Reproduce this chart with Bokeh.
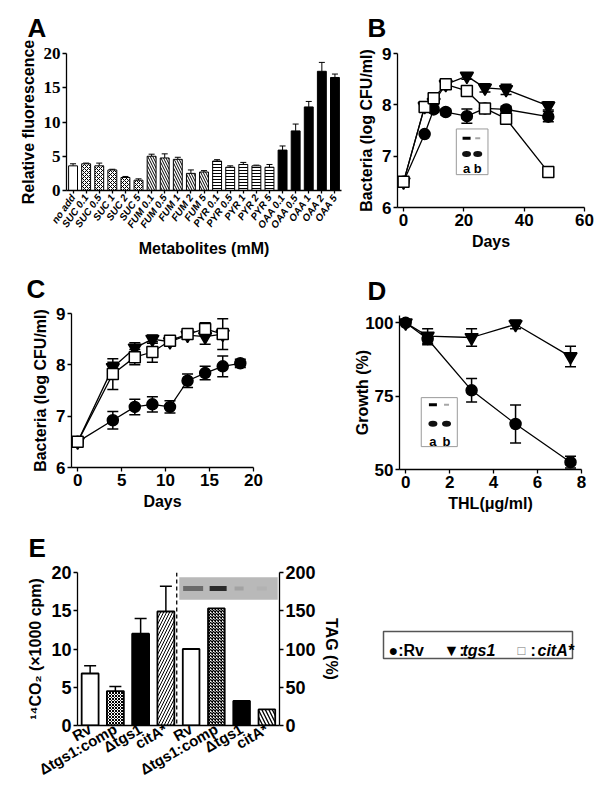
from bokeh.plotting import figure
from bokeh.layouts import column, row
from bokeh.models import (Range1d, FactorRange, LinearAxis, Whisker, TeeHead,
                          ColumnDataSource, FixedTicker, Span)
from bokeh.core.properties import value
from bokeh.embed import file_html
from bokeh.resources import INLINE

FONT = "Liberation Sans"
NARROW = "Liberation Sans Narrow"

# ---------------- Panel A data ----------------
a_labels = ["no add", "SUC 0.1", "SUC 0.5", "SUC 1", "SUC 2", "SUC 5",
            "FUM 0.1", "FUM 0.5", "FUM 1", "FUM 2", "FUM 5",
            "PYR 0.1", "PYR 0.5", "PYR 1", "PYR 2", "PYR 5",
            "OAA 0.1", "OAA 0.5", "OAA 1", "OAA 2", "OAA 5"]
a_values = [3.6, 3.9, 3.6, 3.0, 1.9, 1.5, 5.0, 4.75, 4.55, 2.5, 2.7,
            4.3, 3.4, 3.8, 3.6, 3.4, 5.9, 8.7, 12.2, 17.4, 16.5]
a_errors = [0.3, 0.1, 0.4, 0.1, 0.15, 0.2, 0.3, 0.6, 0.3, 0.5, 0.2,
            0.2, 0.2, 0.3, 0.1, 0.4, 0.6, 1.0, 0.8, 1.3, 0.5]
a_yticks = [0, 5, 10, 15, 20]

# ---------------- Panel B data ----------------
b_days = [0, 7, 10, 14, 21, 27, 34, 48]
b_rv = [6.5, 7.43, 7.91, 7.86, 7.78, 7.93, 7.91, 7.77]
b_rv_err = [0, 0, 0.05, 0.06, 0.14, 0.08, 0.06, 0.1]
b_tgs1 = [6.5, 7.97, 8.05, 8.4, 8.56, 8.33, 8.3, 7.98]
b_tgs1_err = [0, 0.06, 0.05, 0, 0.06, 0.08, 0.1, 0.08]
b_cit = [6.5, 7.96, 8.13, 8.4, 8.27, 7.93, 7.73, 6.69]
b_cit_err = [0, 0.05, 0, 0, 0, 0.05, 0.05, 0]
b_xticks = [0, 20, 40, 60]
b_yticks = [6, 7, 8, 9]

# ---------------- Panel C data ----------------
c_days = [0, 4, 6.5, 8.5, 10.5, 12.5, 14.5, 16.5, 18.5]
c_rv = [6.5, 6.92, 7.18, 7.23, 7.18, 7.69, 7.84, 7.97, 8.03]
c_rv_err = [0, 0.17, 0.15, 0.15, 0.12, 0.13, 0.13, 0.2, 0.08]
c_days_mut = [0, 4, 6.5, 8.5, 10.5, 12.5, 14.5, 16.5]
c_tgs1 = [6.5, 7.95, 8.33, 8.5, 8.45, 8.58, 8.55, 8.6]
c_tgs1_err = [0, 0.1, 0.1, 0.08, 0.06, 0.05, 0.15, 0.1]
c_cit = [6.5, 7.82, 8.15, 8.25, 8.47, 8.6, 8.7, 8.6]
c_cit_err = [0, 0.3, 0.15, 0.2, 0.08, 0.05, 0.12, 0.3]
c_xticks = [0, 5, 10, 15, 20]

# ---------------- Panel D data ----------------
d_thl = [0, 1, 3, 5, 7.5]
d_rv = [100, 94.5, 77, 65.5, 52.5]
d_rv_err = [0, 2, 4, 6.5, 2]
d_tgs1 = [100, 95.5, 95, 99.5, 88.5]
d_tgs1_err = [0, 2.5, 3, 1.5, 3.5]
d_xticks = [0, 2, 4, 6, 8]
d_yticks = [50, 75, 100]

# ---------------- Panel E data ----------------
e_strains = ["Rv", "\u0394tgs1:comp", "\u0394tgs1", "citA*"]
e_co2 = [6.8, 4.5, 12.0, 14.9]
e_co2_err = [1.0, 0.6, 2.0, 3.3]
e_tag = [100, 153, 32, 21]
e_yticks = [0, 5, 10, 15, 20]
e_tag_ticks = [0, 50, 100, 150, 200]

# ---------------- Legend ----------------
legend_symbols = ["\u25cf", "\u25bc", "\u25a1"]
legend_names = ["Rv", "tgs1", "citA*"]


def base_fig(w, h, xr, yr, bl, br, bt, bb, letter, offset, standoff=19):
    p = figure(width=w, height=h, x_range=xr, y_range=yr,
               output_backend="svg", toolbar_location=None,
               min_border_left=bl, min_border_right=br,
               min_border_top=bt, min_border_bottom=bb, title=letter)
    p.frame_align = False
    p.title.align = "left"
    p.title.offset = offset
    p.title.standoff = standoff
    p.title.text_font = FONT
    p.title.text_font_size = "26px"
    p.title.text_font_style = "bold"
    p.title.text_color = "black"
    p.outline_line_color = None
    p.grid.grid_line_color = None
    return p


def style_axes(p, tick_font=FONT, tick_size="17px", label_size="16px"):
    for ax in p.axis:
        ax.axis_line_color = "black"
        ax.axis_line_width = 1.3
        ax.major_tick_line_color = "black"
        ax.major_tick_line_width = 1.3
        ax.major_tick_in = 0
        ax.major_tick_out = 4
        ax.minor_tick_line_color = None
        ax.major_label_text_font = tick_font
        ax.major_label_text_font_style = "bold"
        ax.major_label_text_font_size = tick_size
        ax.major_label_text_color = "black"
        ax.axis_label_text_font = FONT
        ax.axis_label_text_font_style = "bold"
        ax.axis_label_text_font_size = label_size
        ax.axis_label_text_color = "black"
        ax.major_label_standoff = 2
        ax.axis_label_standoff = 4


def add_series(p, xs, ys, errs):
    p.line(xs, ys, line_color="black", line_width=1.3)
    wx = [x for x, e in zip(xs, errs) if e > 0]
    wl = [y - e for y, e in zip(ys, errs) if e > 0]
    wu = [y + e for y, e in zip(ys, errs) if e > 0]
    if wx:
        src = ColumnDataSource(dict(x=wx, lo=wl, up=wu))
        p.add_layout(Whisker(source=src, base="x", lower="lo", upper="up",
                             line_width=1.5, line_color="black",
                             upper_head=TeeHead(size=11, line_width=1.5),
                             lower_head=TeeHead(size=11, line_width=1.5)))


def add_markers(p, xs, ys, marker, size, fill):
    p.scatter(xs, ys, marker=marker, size=size, fill_color=fill,
              line_color="black", line_width=1.5)


def add_inset(p, box, band_x, band_y, band_alpha, dot_y, lab_y):
    (x0, x1, y0, y1) = box
    p.quad(left=[x0], right=[x1], bottom=[y0], top=[y1], fill_color="white",
           line_color="#9a9a9a", line_width=1)
    p.rect(x=band_x, y=[band_y] * 2, width=[8, 5], height=[3, 2],
           width_units="screen", height_units="screen",
           fill_color="black", fill_alpha=band_alpha, line_color=None)
    p.ellipse(x=band_x, y=[dot_y] * 2, width=[9, 9], height=[6, 6],
              width_units="screen", height_units="screen",
              fill_color="#111111", line_color=None)
    p.text(x=band_x, y=[lab_y] * 2, text=["a", "b"], text_align="center",
           text_baseline="alphabetic", text_font=value(FONT),
           text_font_style="bold", text_font_size="13px", text_color="black")


# ================= Panel A =================
group_of = lambda lab: lab.split(" ")[0] if lab != "no add" else "none"
a_style = {
    "none": ("white", "blank", 6),
    "SUC": ("white", "diagonal_cross", 4),
    "FUM": ("white", "left_diagonal_line", 5),
    "PYR": ("white", "horizontal_line", 3),
    "OAA": ("black", "blank", 6),
}
srcA = ColumnDataSource(dict(
    x=a_labels, top=a_values,
    upper=[v + e for v, e in zip(a_values, a_errors)],
    fill=[a_style[group_of(l)][0] for l in a_labels],
    hatch=[a_style[group_of(l)][1] for l in a_labels],
    scale=[a_style[group_of(l)][2] for l in a_labels],
))
pA = base_fig(345, 262, FactorRange(factors=a_labels), Range1d(0, 20),
              66, 4, 53, 72, "A", -39, 21)
pA.add_layout(Whisker(source=srcA, base="x", lower="top", upper="upper",
                      line_width=1, line_color="black",
                      upper_head=TeeHead(size=6, line_width=1), lower_head=None))
pA.vbar(x="x", top="top", width=0.68, source=srcA, fill_color="fill",
        line_color="black", line_width=1, hatch_pattern="hatch",
        hatch_scale="scale", hatch_color="black", hatch_weight=1)
style_axes(pA, tick_font=NARROW, tick_size="17px", label_size="16px")
pA.yaxis.ticker = FixedTicker(ticks=a_yticks)
pA.yaxis.axis_label = "Relative fluorescence"
pA.xaxis.axis_label = "Metabolites (mM)"
pA.xaxis.major_label_orientation = 0.95
pA.xaxis.major_label_text_font = FONT
pA.xaxis.major_label_text_font_style = "bold italic"
pA.xaxis.major_label_text_font_size = "10px"
pA.xaxis.major_tick_out = 3
pA.xaxis.axis_label_standoff = 3
pA.x_range.range_padding = 0

# ================= Panel B =================
pB = base_fig(255, 262, Range1d(-2, 60), Range1d(6, 9), 52, 16, 52, 55,
              "B", -30, 21)
add_series(pB, b_days, b_rv, b_rv_err)
add_series(pB, b_days, b_tgs1, b_tgs1_err)
add_series(pB, b_days, b_cit, b_cit_err)
add_markers(pB, b_days, b_rv, "circle", 11, "black")
add_markers(pB, b_days, b_tgs1, "inverted_triangle", 13, "black")
add_markers(pB, b_days, b_cit, "square", 11, "white")
add_inset(pB, (17.5, 28.0, 6.64, 7.53), [20.9, 24.6], 7.35, [1.0, 0.35],
          7.04, 6.76)
style_axes(pB)
pB.xaxis.ticker = FixedTicker(ticks=b_xticks)
pB.yaxis.ticker = FixedTicker(ticks=b_yticks)
pB.xaxis.axis_label = "Days"
pB.yaxis.axis_label = "Bacteria (log CFU/ml)"

# ================= Panel C =================
pC = base_fig(345, 258, Range1d(-0.7, 20), Range1d(6, 9), 71, 92, 50, 53,
              "C", -45, 19)
add_series(pC, c_days, c_rv, c_rv_err)
add_series(pC, c_days_mut, c_tgs1, c_tgs1_err)
add_series(pC, c_days_mut, c_cit, c_cit_err)
add_markers(pC, c_days, c_rv, "circle", 11, "black")
add_markers(pC, c_days_mut, c_tgs1, "inverted_triangle", 13, "black")
add_markers(pC, c_days_mut, c_cit, "square", 11, "white")
style_axes(pC)
pC.xaxis.ticker = FixedTicker(ticks=c_xticks)
pC.yaxis.ticker = FixedTicker(ticks=b_yticks)
pC.xaxis.axis_label = "Days"
pC.yaxis.axis_label = "Bacteria (log CFU/ml)"

# ================= Panel D =================
pD = base_fig(255, 258, Range1d(-0.28, 8), Range1d(50, 102.5), 54, 19, 53, 51,
              "D", -32, 19)
add_series(pD, d_thl, d_rv, d_rv_err)
add_series(pD, d_thl, d_tgs1, d_tgs1_err)
add_markers(pD, d_thl, d_rv, "circle", 11, "black")
add_markers(pD, d_thl, d_tgs1, "inverted_triangle", 13, "black")
add_inset(pD, (0.71, 2.35, 57.8, 74.5), [1.24, 1.86], 72.1, [1.0, 0.35],
          65.6, 59.4)
style_axes(pD)
pD.xaxis.ticker = FixedTicker(ticks=d_xticks)
pD.yaxis.ticker = FixedTicker(ticks=d_yticks)
pD.xaxis.axis_label = "THL(\u03bcg/ml)"
pD.yaxis.axis_label = "Growth (%)"
pD.yaxis.axis_label_standoff = -9

# ================= Panel E =================
n = len(e_strains)
e_left_x = [i + 0.5 for i in range(n)]
e_right_x = [n + i + 0.5 for i in range(n)]
strain_style = {
    "Rv": ("white", "blank", 6),
    "\u0394tgs1:comp": ("white", "diagonal_cross", 3),
    "\u0394tgs1": ("black", "blank", 6),
}
left_default = ("white", "right_diagonal_line", 6)
right_default = ("white", "left_diagonal_line", 7)
left_src = ColumnDataSource(dict(
    x=e_left_x, top=e_co2, upper=[v + e for v, e in zip(e_co2, e_co2_err)],
    fill=[strain_style.get(s, left_default)[0] for s in e_strains],
    hatch=[strain_style.get(s, left_default)[1] for s in e_strains],
    scale=[strain_style.get(s, left_default)[2] for s in e_strains],
))
right_src = ColumnDataSource(dict(
    x=e_right_x, top=e_tag,
    fill=[strain_style.get(s, right_default)[0] for s in e_strains],
    hatch=[strain_style.get(s, right_default)[1] for s in e_strains],
    scale=[strain_style.get(s, right_default)[2] for s in e_strains],
))
pE = base_fig(345, 270, Range1d(0, 2 * n), Range1d(0, 20), 77, 66, 52, 65,
              "E", -49, 19)
pE.extra_y_ranges = {"tag": Range1d(0, 200)}
pE.add_layout(LinearAxis(y_range_name="tag", axis_label="TAG (%)",
                         ticker=FixedTicker(ticks=e_tag_ticks)), "right")
pE.add_layout(Whisker(source=left_src, base="x", lower="top", upper="upper",
                      line_width=1.5, line_color="black",
                      upper_head=TeeHead(size=12, line_width=1.5),
                      lower_head=None))
pE.vbar(x="x", top="top", width=0.67, source=left_src, fill_color="fill",
        line_color="black", line_width=1.8, hatch_pattern="hatch",
        hatch_scale="scale", hatch_color="black", hatch_weight=1)
pE.vbar(x="x", top="top", width=0.66, source=right_src, fill_color="fill",
        line_color="black", line_width=1.8, hatch_pattern="hatch",
        hatch_scale="scale", hatch_color="black", hatch_weight=1.3,
        y_range_name="tag")
# TLC gel picture above the TAG bars
pE.rect(x=[(n + 2 * n) / 2 - 0.02], y=[17.9], width=[n - 0.1], height=[2.95],
        fill_color="#b9b9b9", line_color=None)
pE.rect(x=[e_right_x[0] + 0.08, e_right_x[1] + 0.07, e_right_x[2] - 0.1,
           e_right_x[3] - 0.2],
        y=[17.9] * 4, width=[20, 17, 9, 10], height=[5, 5, 4, 4],
        width_units="screen", height_units="screen",
        fill_color=["#6a6a6a", "#2a2a2a", "#a2a2a2", "#b2b2b2"],
        line_color=None)
pE.add_layout(Span(location=n - 0.07, dimension="height", line_color="black",
                   line_width=1.3, line_dash="4 3"))
style_axes(pE, tick_size="18px", label_size="16px")
pE.yaxis[0].ticker = FixedTicker(ticks=e_yticks)
pE.yaxis[0].axis_label = "\u00b9\u2074CO\u2082 (\u00d71000 cpm)"
pE.xaxis.ticker = FixedTicker(ticks=e_left_x + e_right_x)
pE.xaxis.major_label_overrides = {x: s for x, s in zip(e_left_x + e_right_x,
                                                        e_strains + e_strains)}
pE.xaxis.major_label_orientation = 0.52
pE.xaxis.major_label_text_font_size = "15px"
pE.xaxis.major_tick_line_color = None
pE.xaxis.major_tick_out = 0

# ================= Legend panel =================
pL = figure(width=255, height=270, x_range=Range1d(0, 255),
            y_range=Range1d(270, 0), output_backend="svg",
            toolbar_location=None, min_border=0,
            x_axis_location=None, y_axis_location=None)
pL.frame_align = False
pL.grid.grid_line_color = None
pL.outline_line_color = None
pL.quad(left=[38], right=[227], top=[111], bottom=[138], fill_color=None,
        line_color="#555555", line_width=1.5)
sym_x = [43, 98, 172]
name_x = [59, 117, 192]
base_y = 130
sym_text = [legend_symbols[0] + ":" + legend_names[0], legend_symbols[1] + ":",
            legend_symbols[2]]
pL.text(x=sym_x[:2], y=[base_y] * 2, text=sym_text[:2], text_font=value(FONT),
        text_font_style="bold", text_font_size="16px", text_color="black",
        text_baseline="alphabetic")
pL.text(x=[sym_x[2]], y=[base_y], text=[sym_text[2]], text_font=value(FONT),
        text_font_size="13px", text_color="#777777", text_baseline="alphabetic")
pL.text(x=[185], y=[base_y], text=[":"], text_font=value(FONT),
        text_font_style="bold", text_font_size="16px", text_color="black",
        text_baseline="alphabetic")
pL.text(x=name_x[1:], y=[base_y] * 2, text=legend_names[1:], text_font=value(FONT),
        text_font_style="bold italic", text_font_size="16px",
        text_color="black", text_baseline="alphabetic")

layout = column(row(pA, pB), row(pC, pD), row(pE, pL))
open("out.html", "w").write(file_html(layout, INLINE))
